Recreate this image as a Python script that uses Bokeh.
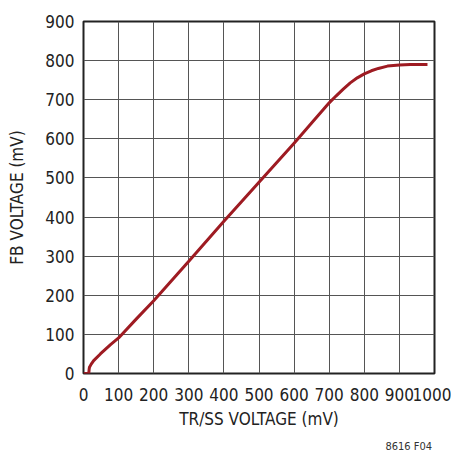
from bokeh.plotting import figure
from bokeh.models import Range1d, FixedTicker, Div
from bokeh.layouts import column
from bokeh.embed import file_html
from bokeh.resources import INLINE

tr_ss_mv = [0, 15, 16, 17, 22, 29, 48, 77, 100, 150, 200, 300, 400, 500, 600, 656, 700, 720, 740, 760, 780, 800, 820, 840, 866, 900, 931, 980]
fb_mv = [0, 0, 10, 16, 24, 33, 50, 74, 91, 139, 186, 287, 389, 489, 589, 647, 692, 710, 727, 743, 756, 766, 774, 780, 786, 789, 790, 790]
x_ticks = [0, 100, 200, 300, 400, 500, 600, 700, 800, 900, 1000]
y_ticks = [0, 100, 200, 300, 400, 500, 600, 700, 800, 900]

FONT = "DejaVu Sans Condensed"

p = figure(width=451, height=440, output_backend="svg", toolbar_location=None,
           x_range=Range1d(0, 1000), y_range=Range1d(0, 900),
           min_border_left=83, min_border_right=17, min_border_top=21, min_border_bottom=67)

p.line(tr_ss_mv, fb_mv, line_color="#9e1b22", line_width=3, line_join="round")

for ax, ticks in ((p.xaxis, x_ticks), (p.yaxis, y_ticks)):
    ax.ticker = FixedTicker(ticks=ticks)
    ax.major_tick_out = 0
    ax.major_tick_in = 0
    ax.minor_tick_out = 0
    ax.minor_tick_in = 0
    ax.axis_line_color = None
    ax.major_label_text_font = FONT
    ax.major_label_text_font_size = "17px"
    ax.major_label_text_color = "#222222"
    ax.axis_label_text_font = FONT
    ax.axis_label_text_font_size = "17px"
    ax.axis_label_text_font_style = "normal"
    ax.axis_label_text_color = "#222222"

p.xaxis.axis_label = "TR/SS VOLTAGE (mV)"
p.yaxis.axis_label = "FB VOLTAGE (mV)"
p.xaxis.major_label_standoff = 14
p.yaxis.major_label_standoff = 9
p.xaxis.axis_label_standoff = 5
p.yaxis.axis_label_standoff = 15

p.xgrid.ticker = FixedTicker(ticks=x_ticks)
p.ygrid.ticker = FixedTicker(ticks=y_ticks)
for g in (p.xgrid, p.ygrid):
    g.grid_line_color = "#555555"
    g.grid_line_width = 1

p.outline_line_color = "#222222"
p.outline_line_width = 2
p.background_fill_color = "white"
p.border_fill_color = "white"

note = Div(text="8616 F04", width=432, height=15, margin=(0, 0, 0, 0),
           styles={"text-align": "right", "font-family": FONT, "font-size": "11px",
                   "color": "#333333", "padding-top": "1px", "line-height": "12px"})

layout = column(p, note, spacing=0)

open("out.html", "w").write(file_html(layout, INLINE))
